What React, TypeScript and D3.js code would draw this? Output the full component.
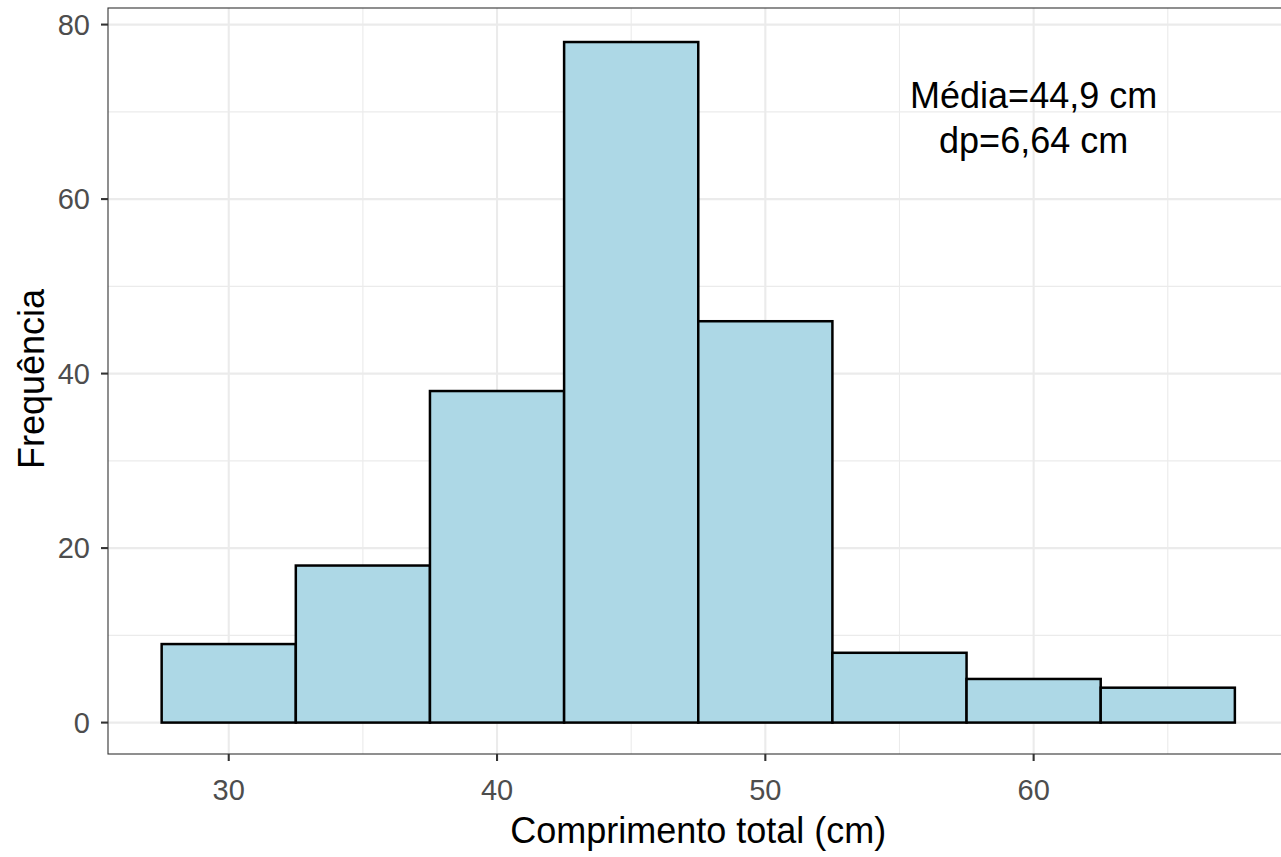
import React from "react";
import * as d3 from "d3";

const binMids: number[] = [30, 35, 40, 45, 50, 55, 60, 65];
const counts: number[] = [9, 18, 38, 78, 46, 8, 5, 4];
const binWidth = 5;
const xTicks: number[] = [30, 40, 50, 60];
const xMinor: number[] = [35, 45, 55, 65];
const yTicks: number[] = [0, 20, 40, 60, 80];
const yMinor: number[] = [10, 30, 50, 70];
const annotLines: string[] = ["Média=44,9 cm", "dp=6,64 cm"];
const annotX = 60;
const annotY = 68;
const xTitle = "Comprimento total (cm)";
const yTitle = "Frequência";

const W = 1281;
const H = 857;
const FONT = "'Liberation Sans', Arial, Helvetica, sans-serif";

export default function App() {
  const left = 108;
  const top = 8;
  const bottom = 754;
  const xLo = 27.5 - 2;
  const xHi = 67.5 + 2;
  const pxPerUnit = 26.83;
  const right = left + (xHi - xLo) * pxPerUnit;
  const x = d3.scaleLinear().domain([xLo, xHi]).range([left, right]);
  const y = d3.scaleLinear().domain([-3.6, 81.9]).range([bottom, top]);

  return (
    <svg
      width={W}
      height={H}
      style={{ position: "absolute", left: 0, top: 0, background: "#fff" }}
      fontFamily={FONT}
    >
      <defs>
        <clipPath id="panel">
          <rect x={left} y={top} width={right - left} height={bottom - top} />
        </clipPath>
      </defs>
      <rect x={0} y={0} width={W} height={H} fill="#fff" />
      <g clipPath="url(#panel)">
        {xMinor.map((v) => (
          <line key={"xm" + v} x1={x(v)} x2={x(v)} y1={top} y2={bottom} stroke="#EBEBEB" strokeWidth={1.1} />
        ))}
        {yMinor.map((v) => (
          <line key={"ym" + v} x1={left} x2={right} y1={y(v)} y2={y(v)} stroke="#EBEBEB" strokeWidth={1.1} />
        ))}
        {xTicks.map((v) => (
          <line key={"xM" + v} x1={x(v)} x2={x(v)} y1={top} y2={bottom} stroke="#EBEBEB" strokeWidth={2.1} />
        ))}
        {yTicks.map((v) => (
          <line key={"yM" + v} x1={left} x2={right} y1={y(v)} y2={y(v)} stroke="#EBEBEB" strokeWidth={2.1} />
        ))}
        {binMids.map((m, i) => (
          <rect
            key={"b" + m}
            x={x(m - binWidth / 2)}
            y={y(counts[i])}
            width={x(m + binWidth / 2) - x(m - binWidth / 2)}
            height={y(0) - y(counts[i])}
            fill="#ADD8E6"
            stroke="#000"
            strokeWidth={2.5}
          />
        ))}
        <text x={x(annotX)} y={y(annotY)} fontSize={36} textAnchor="middle" fill="#000">
          <tspan x={x(annotX)} dy={-21}>{annotLines[0]}</tspan>
          <tspan x={x(annotX)} dy={45}>{annotLines[1]}</tspan>
        </text>
      </g>
      <rect x={left} y={top} width={right - left} height={bottom - top} fill="none" stroke="#333333" strokeWidth={1.1} />
      {xTicks.map((v) => (
        <g key={"xt" + v}>
          <line x1={x(v)} x2={x(v)} y1={bottom} y2={bottom + 7} stroke="#333333" strokeWidth={2.1} />
          <text x={x(v)} y={bottom + 46} fontSize={29} textAnchor="middle" fill="#4D4D4D">
            {v}
          </text>
        </g>
      ))}
      {yTicks.map((v) => (
        <g key={"yt" + v}>
          <line x1={left - 7} x2={left} y1={y(v)} y2={y(v)} stroke="#333333" strokeWidth={2.1} />
          <text x={left - 18} y={y(v)} dy="0.35em" fontSize={29} textAnchor="end" fill="#4D4D4D">
            {v}
          </text>
        </g>
      ))}
      <text x={(left + right) / 2} y={843} fontSize={36} textAnchor="middle" fill="#000">
        {xTitle}
      </text>
      <text
        transform={`translate(44, ${(top + bottom) / 2 - 2}) rotate(-90)`}
        fontSize={36}
        textAnchor="middle"
        fill="#000"
      >
        {yTitle}
      </text>
    </svg>
  );
}
